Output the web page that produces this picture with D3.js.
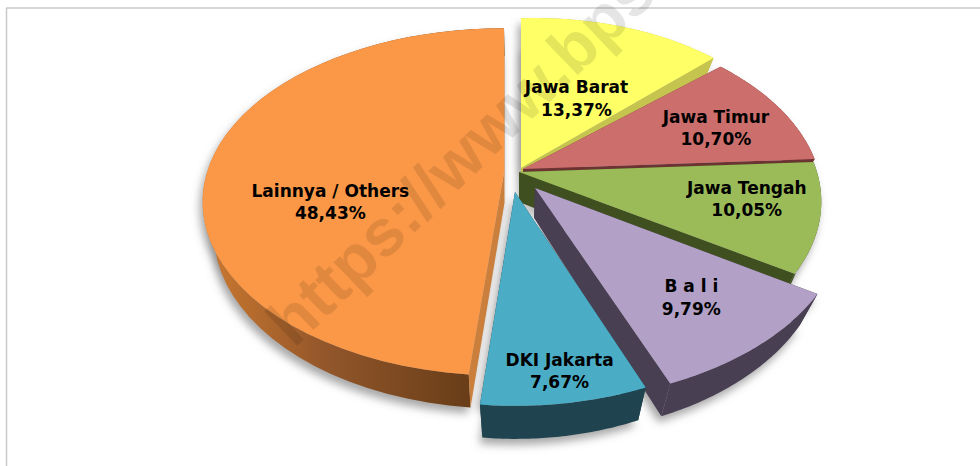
<!DOCTYPE html>
<html>
<head>
<meta charset="utf-8">
<style>html,body{margin:0;padding:0;background:#fff;overflow:hidden}svg{display:block}</style>
<script src="https://cdn.jsdelivr.net/npm/d3@7"></script>
</head>
<body>
<svg id="c" width="980" height="466"></svg>
<script>
// data
const categories = ["Jawa Barat","Jawa Timur","Jawa Tengah","B a l i","DKI Jakarta","Lainnya / Others"];
const shares = [13.37,10.70,10.05,9.79,7.67,48.43];
const shareLabels = ["13,37%","10,70%","10,05%","9,79%","7,67%","48,43%"];
// styles
const topColors  = ["#ffff66","#cc6e6c","#9bbb59","#b2a0c7","#4bacc6","#fb9847"];
const wallColors = ["#c4c44f","#6c3333","#3f4f1f","#483f53","#1f444f","#cb7f3c"];
const rimColors  = ["#c4c44f","#6c3333","#3f4f1f","#483f53","#1f444f","url(#rim)"];
// layout
const centerX = 520, centerY = 170, radiusX = 295, radiusY = 177.7, tilt = 0.169, depth = 30;
const taper = [.06,.06,.06,.06,.06,.035];
const explodeX = [1,3,-1,15,-5,-16];
const explodeY = [-2,-1,2,18,22,2.6];
const scaleX = [.975,1,1.01,1.035,1,1.007];
const scaleY = [.985,.96,.96,1,1,0.95];
const shear = [6.7,0,0,0,0,0];
const labelRadius = [.465,.727,.76,.725,.87,.592];
const labelTurn = [2.3,2.3,-3.2,-.2,-.4,-19.2];

const svg = d3.select("#c");
const defs = svg.append("defs");
defs.append("filter").attr("id","blur").attr("x","-20%").attr("y","-20%").attr("width","140%").attr("height","140%")
  .append("feGaussianBlur").attr("stdDeviation",4);
const grad = defs.append("linearGradient").attr("id","rim")
  .attr("gradientUnits","userSpaceOnUse").attr("x1",210).attr("x2",470).attr("y1",0).attr("y2",0);
grad.append("stop").attr("offset",0).attr("stop-color","#c9772f");
grad.append("stop").attr("offset",.45).attr("stop-color","#92562a");
grad.append("stop").attr("offset",1).attr("stop-color","#683d18");

// frame
svg.append("line").attr("x1",6).attr("x2",980).attr("y1",8).attr("y2",8).attr("stroke","#c9c9c9").attr("stroke-width",1.5);
svg.append("line").attr("x1",6.5).attr("x2",6.5).attr("y1",8).attr("y2",466).attr("stroke","#c9c9c9").attr("stroke-width",1.5);

const pie = d3.pie().sort(null).value(d => d);
const arcs = pie(shares);

function project(i, angle, r, drop) {
  const X = Math.sin(angle) * r, Y = Math.cos(angle) * r;
  const s = 1 / (1 + tilt * Y);
  const x = centerX + explodeX[i] + X * radiusX * scaleX[i] * s;
  const y = centerY + explodeY[i] - Y * radiusY * scaleY[i] * s - shear[i] * X;
  return [
    centerX + (x - centerX) * (1 - taper[i] * drop / depth),
    y + drop * (1 + (s - 1) * .5)
  ];
}
const line = d3.line();
const sweep = (a, b) => d3.range(0, 49).map(k => a + (b - a) * k / 48);
const sector = (i, a, drop) =>
  [project(i, 0, 0, drop)].concat(sweep(a.startAngle, a.endAngle).map(t => project(i, t, 1, drop)));
const closed = pts => line(pts) + "Z";

// soft shadow under all slices
const shadow = svg.append("g").attr("filter","url(#blur)").attr("transform","translate(-3,6)");
arcs.forEach((a, i) => {
  shadow.append("path").attr("d", closed(sector(i, a, depth))).attr("fill","#7a7a7a").attr("opacity",.65);
  shadow.append("path").attr("d", closed(sector(i, a, 0))).attr("fill","#7a7a7a").attr("opacity",.65);
});

// slices, back to front
const order = [0,1,2,3,4,5];
order.forEach(i => {
  const a = arcs[i], g = svg.append("g").attr("class","slice");
  const rimTop = sweep(a.startAngle, a.endAngle).map(t => project(i, t, 1, 0));
  const rimLow = sweep(a.startAngle, a.endAngle).map(t => project(i, t, 1, depth));
  g.append("path").attr("d", closed(rimTop.concat(rimLow.slice().reverse()))).attr("fill", rimColors[i]);
  [a.startAngle, a.endAngle].forEach(t => {
    g.append("path").attr("d", closed([
      project(i, t, 0, 0), project(i, t, 1, 0), project(i, t, 1, depth), project(i, t, 0, depth)
    ])).attr("fill", wallColors[i]);
  });
  g.append("path").attr("d", closed(sector(i, a, 0))).attr("fill", topColors[i]);
});

// watermark
svg.append("text").text("https://www.bps")
  .attr("transform","translate(294,349) rotate(-44)")
  .attr("font-family","'Liberation Sans',sans-serif").attr("font-weight",700).attr("font-size",66)
  .attr("fill","#000").attr("fill-opacity",.1);

// labels
arcs.forEach((a, i) => {
  const mid = (a.startAngle + a.endAngle) / 2 + labelTurn[i] * Math.PI / 180;
  const p = project(i, mid, labelRadius[i], 0);
  const t = svg.append("text").attr("text-anchor","middle")
    .attr("font-family","'DejaVu Sans',sans-serif").attr("font-weight",700).attr("font-size",17).attr("fill","#000");
  t.append("tspan").attr("x",p[0]).attr("y",p[1]-5).text(categories[i]);
  t.append("tspan").attr("x",p[0]).attr("y",p[1]+17.5).text(shareLabels[i]);
});
</script>
</body>
</html>
